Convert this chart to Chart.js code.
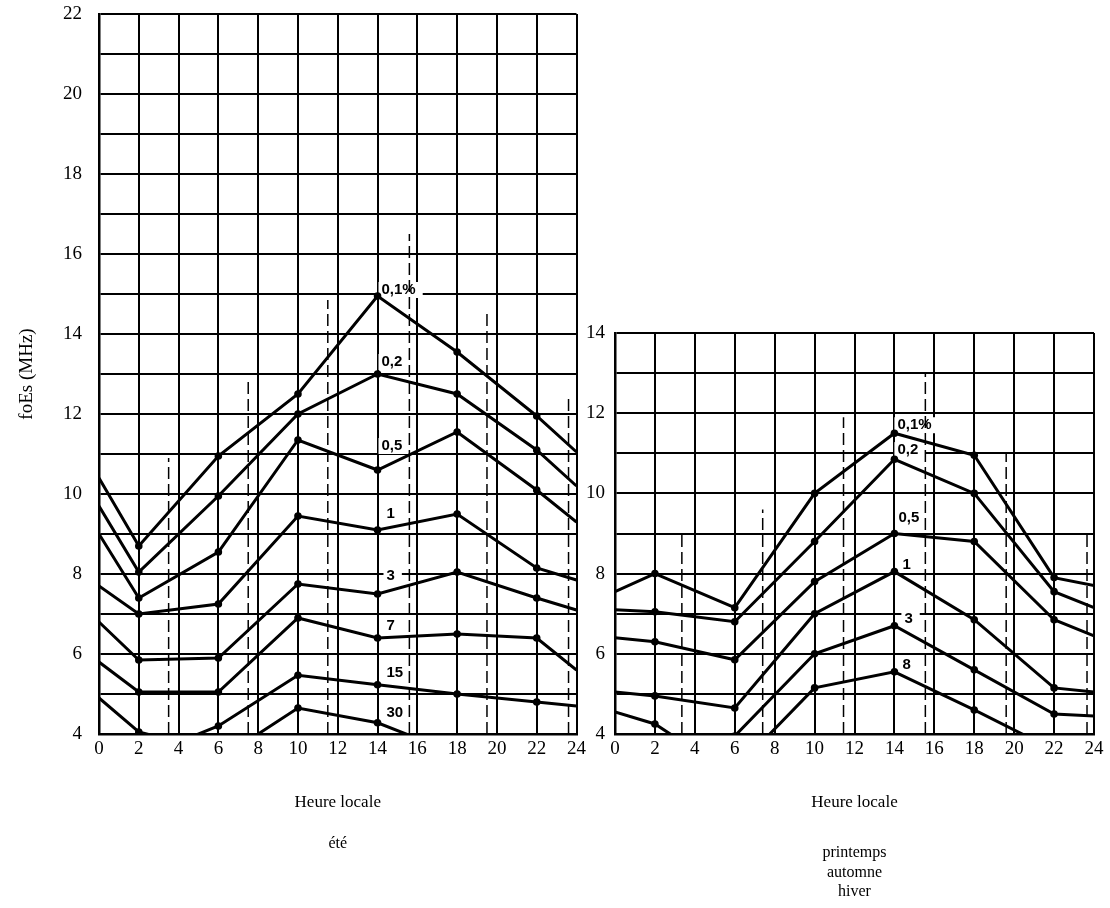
<!DOCTYPE html>
<html>
<head>
<meta charset="utf-8">
<title>foEs - Heure locale</title>
<script src="https://cdn.jsdelivr.net/npm/chart.js@4/dist/chart.umd.min.js"></script>
<style>
  html, body { margin: 0; padding: 0; background: #fff; }
  body { width: 1110px; height: 908px; position: relative; overflow: hidden; }
  canvas { position: absolute; top: 0; }
  #ete { left: 0; }
  #hiver { left: 570px; }
</style>
</head>
<body>
<canvas id="ete" width="590" height="908"></canvas>
<canvas id="hiver" width="540" height="908"></canvas>
<script>
// tick labels
const xTickLabels = [0, 2, 4, 6, 8, 10, 12, 14, 16, 18, 20, 22, 24];
const eteYTickLabels = [4, 6, 8, 10, 12, 14, 16, 18, 20, 22];
const hiverYTickLabels = [4, 6, 8, 10, 12, 14];

// été (left panel) - foEs in MHz, read at the marked hours
const hours = [0, 2, 6, 10, 14, 18, 22, 24];
const ete01 = [10.4, 8.7, 10.95, 12.5, 14.95, 13.55, 11.95, 11.05];
const ete02 = [9.7, 8.05, 9.95, 12.0, 13.0, 12.5, 11.1, 10.2];
const ete05 = [9.0, 7.4, 8.55, 11.35, 10.6, 11.55, 10.1, 9.3];
const ete1 = [7.7, 7.0, 7.25, 9.45, 9.1, 9.5, 8.15, 7.85];
const ete3 = [6.8, 5.85, 5.9, 7.75, 7.5, 8.05, 7.4, 7.1];
const ete7 = [5.8, 5.05, 5.05, 6.9, 6.4, 6.5, 6.4, 5.6];
const hours15 = [0, 2, 4, 6, 10, 14, 18, 22, 24];
const ete15 = [4.9, 4.05, 3.8, 4.2, 5.47, 5.23, 5.0, 4.8, 4.7];
const hours30 = [6, 10, 14, 18];
const ete30 = [3.35, 4.65, 4.28, 3.5];
const eteNames = ['0,1%', '0,2', '0,5', '1', '3', '7', '15', '30'];
const eteDashHours = [3.5, 7.5, 11.5, 15.6, 19.5, 23.6];
const eteDashTops = [10.9, 12.9, 14.85, 16.5, 14.5, 12.5];

// printemps / automne / hiver (right panel)
const hiv01 = [7.55, 8.0, 7.15, 10.0, 11.5, 10.95, 7.9, 7.7];
const hiv02 = [7.1, 7.05, 6.8, 8.8, 10.85, 10.0, 7.55, 7.15];
const hiv05 = [6.4, 6.3, 5.85, 7.8, 9.0, 8.8, 6.85, 6.45];
const hiv1 = [5.05, 4.95, 4.65, 7.0, 8.05, 6.85, 5.15, 5.05];
const hours3 = [0, 2, 4, 6, 10, 14, 18, 22, 24];
const hiv3 = [4.55, 4.25, 3.6, 3.95, 6.0, 6.7, 5.6, 4.5, 4.45];
const hours8 = [6, 10, 14, 18, 22];
const hiv8 = [3.1, 5.15, 5.55, 4.6, 3.6];
const hiverNames = ['0,1%', '0,2', '0,5', '1', '3', '8'];
const hiverDashHours = [3.35, 7.4, 11.45, 15.55, 19.6, 23.65];
const hiverDashTops = [9.0, 9.6, 11.9, 13.0, 11.0, 9.0];

Chart.defaults.font.family = "'Liberation Serif', 'Times New Roman', serif";
Chart.defaults.color = '#000';

function curve(xs, ys) {
    return {
        data: xs.map((x, i) => ({ x: x, y: ys[i] })),
        borderColor: '#000',
        borderWidth: 3,
        pointBackgroundColor: '#000',
        pointBorderWidth: 0,
        pointRadius: ctx => (ctx.raw && (ctx.raw.x === 0 || ctx.raw.x === 24)) ? 0 : 3.8,
        tension: 0
    };
}

function dashes(xs, tops) {
    return xs.map((x, i) => ({
        data: [{ x: x, y: 4 }, { x: x, y: tops[i] }],
        borderColor: '#000',
        borderWidth: 1.5,
        borderDash: [12, 5],
        pointRadius: 0
    }));
}

// curve names, drawn on a white patch so the grid is broken behind them
const curveLabels = {
    id: 'curveLabels',
    beforeDatasetsDraw(chart, args, opts) {
        const c = chart.ctx;
        const xs = chart.scales.x, ys = chart.scales.y;
        c.save();
        c.font = "bold 15px 'Liberation Sans', Arial, sans-serif";
        c.textBaseline = 'middle';
        c.textAlign = 'left';
        opts.names.forEach((name, i) => {
            const px = xs.getPixelForValue(opts.at[i][0]);
            const py = ys.getPixelForValue(opts.at[i][1]);
            const w = c.measureText(name).width;
            c.fillStyle = '#fff';
            c.fillRect(px - 3, py - 8, w + 10, 16);
            c.fillStyle = '#000';
            c.fillText(name, px, py);
        });
        c.restore();
    }
};

const captions = {
    id: 'captions',
    afterDraw(chart, args, opts) {
        const c = chart.ctx;
        const a = chart.chartArea;
        c.save();
        c.font = "16px 'Liberation Serif', serif";
        c.fillStyle = '#000';
        c.textAlign = 'center';
        c.textBaseline = 'middle';
        opts.lines.forEach((t, i) => c.fillText(t, (a.left + a.right) / 2, opts.top + i * opts.gap));
        c.restore();
    }
};

function buildChart(id, cfg) {
    return new Chart(document.getElementById(id), {
        type: 'line',
        data: { datasets: cfg.datasets },
        plugins: [curveLabels, captions],
        options: {
            responsive: false,
            animation: false,
            events: [],
            layout: { padding: cfg.padding },
            plugins: {
                legend: { display: false },
                tooltip: { enabled: false },
                curveLabels: { names: cfg.names, at: cfg.labelAt },
                captions: { lines: cfg.caption, top: cfg.captionTop, gap: 19.5 }
            },
            scales: {
                x: {
                    type: 'linear', min: 0, max: 24,
                    afterFit: s => { s.height = 174; },
                    ticks: {
                        stepSize: 2, padding: 4, maxRotation: 0, autoSkip: false,
                        font: { size: 19 },
                        callback: v => xTickLabels.includes(v) ? String(v) : ''
                    },
                    grid: { color: '#000', lineWidth: 2, drawTicks: false },
                    border: { color: '#000', width: 2.5 },
                    title: { display: true, text: 'Heure locale', font: { size: 17 }, padding: { bottom: 95 } }
                },
                y: {
                    min: 4, max: cfg.yMax,
                    afterFit: s => {
                        s.width = cfg.yWidth;
                        // let layout.padding decide where the plot starts
                        s.paddingTop = 0;
                        s.paddingBottom = 0;
                    },
                    ticks: {
                        stepSize: 1, padding: cfg.yPad, autoSkip: false,
                        font: { size: 19 },
                        callback: v => cfg.yTicks.includes(v) ? String(v) : ''
                    },
                    grid: { color: '#000', lineWidth: 2, drawTicks: false },
                    border: { color: '#000', width: 2.5 },
                    title: { display: cfg.yTitle !== '', text: cfg.yTitle, font: { size: 19 }, padding: { top: 16 } }
                }
            }
        }
    });
}

buildChart('ete', {
    datasets: [
        curve(hours, ete01), curve(hours, ete02), curve(hours, ete05), curve(hours, ete1),
        curve(hours, ete3), curve(hours, ete7), curve(hours15, ete15), curve(hours30, ete30)
    ].concat(dashes(eteDashHours, eteDashTops)),
    names: eteNames,
    labelAt: [[14.2, 15.1], [14.2, 13.3], [14.2, 11.2], [14.45, 9.5], [14.45, 7.95], [14.45, 6.7], [14.45, 5.53], [14.45, 4.53]],
    padding: { left: 0, right: 11, top: 14, bottom: 0 },
    yMax: 22, yTicks: eteYTickLabels, yWidth: 99, yPad: 17,
    yTitle: 'foEs (MHz)',
    caption: ['été'], captionTop: 844
});

buildChart('hiver', {
    datasets: [
        curve(hours, hiv01), curve(hours, hiv02), curve(hours, hiv05), curve(hours, hiv1),
        curve(hours3, hiv3), curve(hours8, hiv8)
    ].concat(dashes(hiverDashHours, hiverDashTops)),
    names: hiverNames,
    labelAt: [[14.15, 11.7], [14.15, 11.08], [14.2, 9.38], [14.4, 8.23], [14.5, 6.88], [14.4, 5.73]],
    padding: { left: 0, right: 16, top: 333, bottom: 0 },
    yMax: 14, yTicks: hiverYTickLabels, yWidth: 45, yPad: 10,
    yTitle: '',
    caption: ['printemps', 'automne', 'hiver'], captionTop: 853
});
</script>
</body>
</html>
